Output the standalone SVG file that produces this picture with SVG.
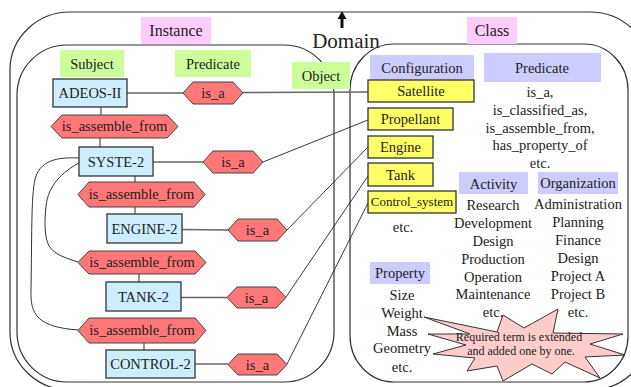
<svg xmlns="http://www.w3.org/2000/svg" width="631" height="387" viewBox="0 0 631 387" font-family="'Liberation Serif', 'DejaVu Serif', serif">
  <style>
    text { font-family: 'Liberation Serif', 'DejaVu Serif', serif; fill: #222; text-anchor: middle; }
    .t15 { font-size: 14.5px; }
    .t13 { font-size: 13px; }
    .frame { fill: none; stroke: #333; stroke-width: 1.2; }
    .pink { fill: #ffccff; }
    .green { fill: #ccff99; }
    .lav { fill: #ccccff; }
    .inst { fill: #cdeeff; stroke: #333; stroke-width: 1.3; }
    .cls { fill: #ffff66; stroke: #333; stroke-width: 1.3; }
    .pred { fill: #ff7777; stroke: #444; stroke-width: 1; }
    .link { fill: none; stroke: #666; stroke-width: 1.4; }
    .diag { fill: none; stroke: #222; stroke-width: 0.9; }
    .curve { fill: none; stroke: #333; stroke-width: 1; }
  </style>

  <!-- containers -->
  <g id="domain">
    <rect class="frame" x="10" y="12" width="640" height="378" rx="60" ry="58"/>
    <rect x="340.5" y="18" width="3" height="10" fill="#111"/>
    <polygon points="337.5,19 346.5,19 342,11" fill="#111"/>
    <text x="346" y="48" style="font-size:21px">Domain</text>
  </g>
  <g id="instance-area">
    <rect class="frame" x="17" y="45" width="317" height="337" rx="50" ry="50"/>
    <rect class="pink" x="141" y="17" width="70" height="27"/>
    <text x="176" y="36" style="font-size:16px">Instance</text>
  </g>
  <g id="class-area">
    <rect class="frame" x="350" y="44" width="278" height="338" rx="44" ry="46"/>
    <rect class="pink" x="467" y="17" width="50" height="27"/>
    <text x="492" y="36" style="font-size:16px">Class</text>
  </g>

  <!-- column headings -->
  <g id="heading-subject"><rect class="green" x="60" y="50" width="64" height="27"/><text class="t15" x="92" y="69">Subject</text></g>
  <g id="heading-predicate"><rect class="green" x="175" y="50" width="76" height="27"/><text class="t15" x="213" y="69">Predicate</text></g>
  <g id="heading-object"><rect class="green" x="292" y="62" width="58" height="27"/><text class="t15" x="321" y="81">Object</text></g>

  <!-- connectors -->
  <g id="connectors">
    <line class="link" x1="101" y1="107" x2="101" y2="115"/>
    <line class="link" x1="100" y1="138" x2="100" y2="147"/>
    <line class="link" x1="135" y1="176" x2="135" y2="182"/>
    <line class="link" x1="135" y1="207" x2="135" y2="214"/>
    <line class="link" x1="139" y1="274" x2="139" y2="282"/>
    <line class="link" x1="144" y1="343" x2="144" y2="350"/>
    <line class="link" x1="127" y1="93" x2="183" y2="93"/>
    <line class="link" x1="243" y1="92.5" x2="368" y2="92"/>
    <line class="link" x1="153" y1="162" x2="203" y2="162"/>
    <line class="link" x1="182" y1="229.5" x2="228" y2="230"/>
    <line class="link" x1="181" y1="297.5" x2="227" y2="297.5"/>
    <line class="link" x1="195" y1="364" x2="228" y2="364"/>
    <line class="diag" x1="263" y1="162" x2="368" y2="120"/>
    <line class="diag" x1="287" y1="230" x2="368" y2="147"/>
    <line class="diag" x1="286" y1="297" x2="368" y2="176"/>
    <line class="diag" x1="287" y1="364" x2="368" y2="203"/>
    <path class="curve" d="M79,158 C58,157 42,160 36,176 C31,190 32,230 31,290 C30,315 38,327 78,330"/>
    <path class="curve" d="M79,163 C62,172 48,186 46,206 C44,225 45,238 49,246 C55,255 66,258 78,262"/>
  </g>

  <!-- instance nodes -->
  <g id="adeos-ii"><rect class="inst" x="53" y="79" width="74" height="28"/><text class="t15" x="90" y="98">ADEOS-II</text></g>
  <g id="syste-2"><rect class="inst" x="79" y="147" width="74" height="29"/><text class="t15" x="116" y="167">SYSTE-2</text></g>
  <g id="engine-2"><rect class="inst" x="107" y="214" width="75" height="29"/><text class="t15" x="144.5" y="234">ENGINE-2</text></g>
  <g id="tank-2"><rect class="inst" x="106" y="282" width="75" height="29"/><text class="t15" x="143.5" y="302">TANK-2</text></g>
  <g id="control-2"><rect class="inst" x="106" y="350" width="89" height="28"/><text class="t15" x="150.5" y="369">CONTROL-2</text></g>

  <!-- predicate nodes -->
  <g id="is-a-1"><polygon class="pred" points="183,93 193,82 233,82 243,93 233,104 193,104"/><text class="t15" x="213" y="98">is_a</text></g>
  <g id="assemble-1"><polygon class="pred" points="51,126.5 62,115 167,115 178,126.5 167,138 62,138"/><text class="t15" x="114.5" y="131">is_assemble_from</text></g>
  <g id="is-a-2"><polygon class="pred" points="203,162 213,151 253,151 263,162 253,173 213,173"/><text class="t15" x="233" y="167">is_a</text></g>
  <g id="assemble-2"><polygon class="pred" points="78,194.5 89,182 194,182 205,194.5 194,207 89,207"/><text class="t15" x="141.5" y="199">is_assemble_from</text></g>
  <g id="is-a-3"><polygon class="pred" points="228,230 238,219 277,219 287,230 277,241 238,241"/><text class="t15" x="257.5" y="235">is_a</text></g>
  <g id="assemble-3"><polygon class="pred" points="78,262.5 89,251 195,251 206,262.5 195,274 89,274"/><text class="t15" x="142" y="267">is_assemble_from</text></g>
  <g id="is-a-4"><polygon class="pred" points="227,297.5 237,287 276,287 286,297.5 276,308 237,308"/><text class="t15" x="256.5" y="302.5">is_a</text></g>
  <g id="assemble-4"><polygon class="pred" points="78,330.5 89,318 195,318 206,330.5 195,343 89,343"/><text class="t15" x="142" y="335">is_assemble_from</text></g>
  <g id="is-a-5"><polygon class="pred" points="228,364.5 238,354 277,354 287,364.5 277,375 238,375"/><text class="t15" x="257.5" y="369.5">is_a</text></g>

  <!-- configuration classes -->
  <g id="heading-configuration"><rect class="lav" x="370" y="55" width="104" height="26"/><text class="t15" x="422" y="73">Configuration</text></g>
  <g id="satellite"><rect class="cls" x="368" y="80" width="106" height="22"/><text class="t15" x="421" y="96">Satellite</text></g>
  <g id="propellant"><rect class="cls" x="368" y="108" width="85" height="22"/><text class="t15" x="410.5" y="124">Propellant</text></g>
  <g id="engine"><rect class="cls" x="368" y="136" width="65" height="22"/><text class="t15" x="400.5" y="152">Engine</text></g>
  <g id="tank"><rect class="cls" x="368" y="163" width="65" height="23"/><text class="t15" x="400.5" y="180">Tank</text></g>
  <g id="control-system"><rect class="cls" x="368" y="191" width="88" height="22"/><text class="t13" x="412" y="206">Control_system</text></g>
  <text class="t15" x="403" y="232">etc.</text>

  <!-- predicate vocabulary -->
  <g id="heading-class-predicate"><rect class="lav" x="484" y="53" width="117" height="29"/><text class="t15" x="542" y="73">Predicate</text></g>
  <g id="predicate-list">
    <text class="t15" x="540" y="97">is_a,</text>
    <text class="t15" x="540" y="115">is_classified_as,</text>
    <text class="t15" x="540" y="133">is_assemble_from,</text>
    <text class="t15" x="540" y="150">has_property_of</text>
    <text class="t15" x="540" y="168">etc.</text>
  </g>

  <!-- activity vocabulary -->
  <g id="heading-activity"><rect class="lav" x="459" y="172" width="69" height="22"/><text class="t15" x="493.5" y="189">Activity</text></g>
  <g id="activity-list">
    <text class="t15" x="493" y="210">Research</text>
    <text class="t15" x="493" y="228">Development</text>
    <text class="t15" x="493" y="246">Design</text>
    <text class="t15" x="493" y="264">Production</text>
    <text class="t15" x="493" y="282">Operation</text>
    <text class="t15" x="493" y="299">Maintenance</text>
    <text class="t15" x="493" y="317">etc.</text>
  </g>

  <!-- organization vocabulary -->
  <g id="heading-organization"><rect class="lav" x="538" y="172" width="80" height="22"/><text class="t15" x="578" y="188">Organization</text></g>
  <g id="organization-list">
    <text class="t15" x="578" y="209">Administration</text>
    <text class="t15" x="578" y="227">Planning</text>
    <text class="t15" x="578" y="245">Finance</text>
    <text class="t15" x="578" y="263">Design</text>
    <text class="t15" x="578" y="281">Project A</text>
    <text class="t15" x="578" y="299">Project B</text>
    <text class="t15" x="578" y="317">etc.</text>
  </g>

  <!-- property vocabulary -->
  <g id="heading-property"><rect class="lav" x="370" y="262" width="60" height="22"/><text class="t15" x="400" y="278">Property</text></g>
  <g id="property-list">
    <text class="t15" x="402" y="300">Size</text>
    <text class="t15" x="402" y="318">Weight</text>
    <text class="t15" x="402" y="336">Mass</text>
    <text class="t15" x="402" y="353">Geometry</text>
    <text class="t15" x="402" y="372">etc.</text>
  </g>

  <!-- note burst -->
  <g id="note">
    <polygon points="424,317 497,332 503,315 524,328 558,309 553,333 623,334 590,344 625,355 585,357 600,378 565,362 552,374 532,364 503,381 497,366 467,371 475,358 433,354 466,345 428,334 470,334"
             fill="#ffcccc" stroke="#333" stroke-width="1"/>
    <text x="519" y="341" style="font-size:12px">Required term is extended</text>
    <text x="521" y="355" style="font-size:12px">and added one by one.</text>
  </g>
</svg>
